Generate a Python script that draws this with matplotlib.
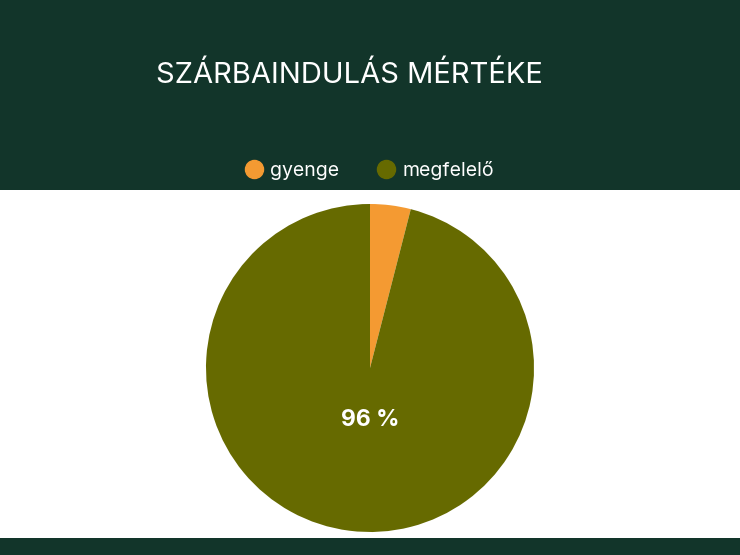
import matplotlib
matplotlib.use("Agg")
import matplotlib.pyplot as plt
from matplotlib.patches import Rectangle
from matplotlib.lines import Line2D

title = "SZÁRBAINDULÁS MÉRTÉKE"
categories = ["gyenge", "megfelelő"]
values = [4, 96]
colors = ["#F49A32", "#666A00"]
BG = "#12352A"

plt.rcParams['font.family'] = ['Inter', 'DejaVu Sans']

fig = plt.figure(figsize=(7.4, 5.55), dpi=100)
fig.patch.set_facecolor("white")
# top band
fig.add_artist(Rectangle((0, 1 - 190/555), 1, 190/555, transform=fig.transFigure,
                         facecolor=BG, edgecolor="none", zorder=0))
# bottom band
fig.add_artist(Rectangle((0, 0), 1, 17/555, transform=fig.transFigure,
                         facecolor=BG, edgecolor="none", zorder=0))

fig.text(349/740, 1 - 75/555, title, color="white", fontsize=21,
         ha="center", va="center")

ax = fig.add_axes([(370-164)/740, (555-532)/555, 328/740, 328/555])
ax.pie(values, colors=colors, startangle=90, counterclock=False,
       radius=1.0, wedgeprops=dict(linewidth=0))
ax.set_xlim(-1, 1)
ax.set_ylim(-1, 1)
ax.set_aspect("equal")
ax.axis("off")
total = sum(values)
ax.text(0, -0.317, f"{round(values[1]/total*100)} %", color="white",
        fontsize=16.5, fontweight="bold", ha="center", va="center")

handles = [Line2D([], [], marker="o", linestyle="none", markersize=13,
                  markerfacecolor=c, markeredgecolor=c) for c in colors]
leg = fig.legend(handles, categories, loc="center", bbox_to_anchor=(368/740, 1 - 170/555),
                 ncol=2, frameon=False, fontsize=14, labelcolor="white",
                 handletextpad=0.25, columnspacing=1.8, handlelength=1.2)

fig.savefig("out.png", dpi=100, facecolor=fig.get_facecolor())
